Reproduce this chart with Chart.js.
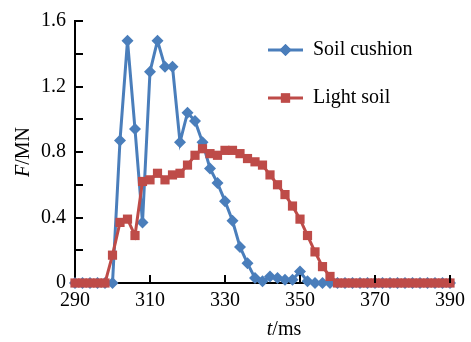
<!DOCTYPE html>
<html><head><meta charset="utf-8">
<script src="https://cdn.jsdelivr.net/npm/chart.js@4/dist/chart.umd.min.js"></script>
<style>html,body{margin:0;padding:0;background:#fff}canvas{display:block}</style>
</head><body>
<canvas id="c" width="471" height="342"></canvas>
<script>
const times = [290,292,294,296,298,300,302,304,306,308,310,312,314,316,318,320,322,324,326,328,330,332,334,336,338,340,342,344,346,348,350,352,354,356,358,360,362,364,366,368,370,372,374,376,378,380,382,384,386,388,390];
const soilCushion = [0,0,0,0,0,0,0.87,1.48,0.94,0.37,1.29,1.48,1.32,1.32,0.86,1.04,0.99,0.86,0.70,0.61,0.50,0.38,0.22,0.12,0.03,0.01,0.04,0.03,0.02,0.02,0.07,0.01,0,0,0,0,0,0,0,0,0,0,0,0,0,0,0,0,0,0,0];
const lightSoil = [0,0,0,0,0,0.17,0.37,0.39,0.29,0.62,0.63,0.67,0.63,0.66,0.67,0.72,0.78,0.82,0.79,0.78,0.81,0.81,0.79,0.76,0.74,0.72,0.66,0.60,0.54,0.47,0.39,0.29,0.19,0.10,0.04,0,0,0,0,0,0,0,0,0,0,0,0,0,0,0,0];
const xTickLabels = [290,310,330,350,370,390];
const xTickValues = [310,330,350,370,390];
const yMinorTicks = [0.2,0.4,0.6,0.8,1.0,1.2,1.4,1.6];
const seriesNames = ['Soil cushion','Light soil'];

const BLUE = '#4A7EBB', RED = '#BE4B48';
const FONT = '"Liberation Serif", "Times New Roman", serif';

const decor = {
  id: 'decor',
  afterDraw(chart) {
    const ctx = chart.ctx, x = chart.scales.x, y = chart.scales.y;
    ctx.save();
    ctx.strokeStyle = '#000'; ctx.lineWidth = 2;
    yMinorTicks.forEach(v => {
      const py = Math.round(y.getPixelForValue(v));
      ctx.beginPath(); ctx.moveTo(x.left, py); ctx.lineTo(x.left + 8, py); ctx.stroke();
    });
    xTickValues.forEach(v => {
      const px = Math.round(x.getPixelForValue(v));
      ctx.beginPath(); ctx.moveTo(px, y.bottom); ctx.lineTo(px, y.bottom - 8); ctx.stroke();
    });
    const items = [
      {name: seriesNames[0], color: BLUE, style: 'rectRot', r: 6, yy: 50},
      {name: seriesNames[1], color: RED, style: 'rect', r: 6.5, yy: 98}
    ];
    items.forEach(it => {
      ctx.strokeStyle = it.color; ctx.lineWidth = 3;
      ctx.beginPath(); ctx.moveTo(268, it.yy); ctx.lineTo(303, it.yy); ctx.stroke();
      ctx.fillStyle = it.color;
      Chart.helpers.drawPoint(ctx, {pointStyle: it.style, radius: it.r, borderWidth: 0}, 285.5, it.yy);
      ctx.fill();
      ctx.fillStyle = '#000';
      ctx.font = '20px ' + FONT;
      ctx.textBaseline = 'middle'; ctx.textAlign = 'left';
      ctx.fillText(it.name, 313, it.yy);
    });
    ctx.fillStyle = '#000';
    ctx.textBaseline = 'alphabetic';
    ctx.font = 'italic 20px ' + FONT;
    const tW = ctx.measureText('t').width;
    ctx.font = '20px ' + FONT;
    const rW = ctx.measureText('/ms').width;
    let sx = 284 - (tW + rW) / 2;
    ctx.font = 'italic 20px ' + FONT; ctx.textAlign = 'left';
    ctx.fillText('t', sx, 335);
    ctx.font = '20px ' + FONT;
    ctx.fillText('/ms', sx + tW, 335);
    ctx.translate(29, 152);
    ctx.rotate(-Math.PI / 2);
    ctx.font = 'italic 20px ' + FONT;
    const fW = ctx.measureText('F').width;
    ctx.font = '20px ' + FONT;
    const mW = ctx.measureText('/MN').width;
    let sy = -(fW + mW) / 2;
    ctx.font = 'italic 20px ' + FONT;
    ctx.fillText('F', sy, 0);
    ctx.font = '20px ' + FONT;
    ctx.fillText('/MN', sy + fW, 0);
    ctx.restore();
  }
};

new Chart(document.getElementById('c'), {
  type: 'line',
  data: {
    datasets: [
      {
        label: seriesNames[0],
        data: times.map((t, i) => ({x: t, y: soilCushion[i]})),
        borderColor: BLUE, backgroundColor: BLUE,
        borderWidth: 3, pointStyle: 'rectRot', pointRadius: 6,
        pointBorderWidth: 0, pointBackgroundColor: BLUE,
        tension: 0, clip: false, order: 1
      },
      {
        label: seriesNames[1],
        data: times.map((t, i) => ({x: t, y: lightSoil[i]})),
        borderColor: RED, backgroundColor: RED,
        borderWidth: 3, pointStyle: 'rect', pointRadius: 6.5,
        pointBorderWidth: 0, pointBackgroundColor: RED,
        tension: 0, clip: false, order: 0
      }
    ]
  },
  options: {
    responsive: false, animation: false, devicePixelRatio: 1,
    layout: {padding: {top: 11, right: 16, left: 0, bottom: 0}},
    plugins: {legend: {display: false}, tooltip: {enabled: false}},
    scales: {
      x: {
        type: 'linear', min: 290, max: 390,
        afterFit(s) { s.height = 59; },
        afterBuildTicks(s) { s.ticks = xTickLabels.map(v => ({value: v})); },
        ticks: {color: '#000', font: {family: FONT, size: 20}, padding: 6, maxRotation: 0, autoSkip: false},
        grid: {drawOnChartArea: false, drawTicks: false},
        border: {display: true, color: '#000', width: 2}
      },
      y: {
        min: 0, max: 1.6,
        afterFit(s) { s.width = 75; },
        ticks: {stepSize: 0.4, color: '#000', font: {family: FONT, size: 20}, padding: 9},
        grid: {drawOnChartArea: false, drawTicks: false},
        border: {display: true, color: '#000', width: 2}
      }
    }
  },
  plugins: [decor]
});
</script>
</body></html>
